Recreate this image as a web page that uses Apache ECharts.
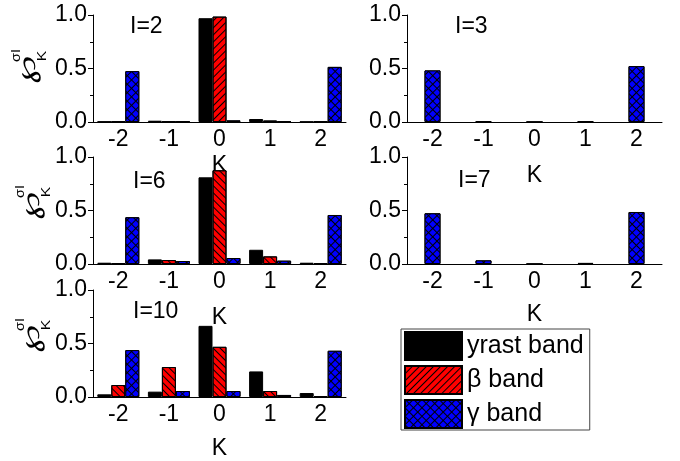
<!DOCTYPE html>
<html>
<head>
<meta charset="utf-8">
<script src="https://cdn.jsdelivr.net/npm/echarts@6/dist/echarts.min.js"></script>
<style>
html, body { margin: 0; padding: 0; background: #fff; }
#main { width: 680px; height: 461px; }
</style>
</head>
<body>
<div id="main"></div>
<script>
// K projections
var kLabels = ['-2', '-1', '0', '1', '2'];

// I=2
var yrastI2 = [0.005, 0.012, 0.97, 0.028, 0.004];
var betaI2 = [0.004, 0.004, 0.985, 0.014, 0.004];
var gammaI2 = [0.475, 0.004, 0.015, 0.004, 0.515];
// I=3
var gammaI3 = [0.482, 0.006, 0, 0.005, 0.522];
// I=6
var yrastI6 = [0.012, 0.043, 0.81, 0.133, 0.012];
var betaI6 = [0.006, 0.037, 0.876, 0.071, 0.008];
var gammaI6 = [0.437, 0.028, 0.056, 0.031, 0.458];
// I=7
var gammaI7 = [0.474, 0.034, 0, 0.01, 0.486];
// I=10
var yrastI10 = [0.025, 0.05, 0.665, 0.239, 0.037];
var betaI10 = [0.112, 0.28, 0.469, 0.056, 0.009];
var gammaI10 = [0.438, 0.056, 0.056, 0.019, 0.432];

var FONT = 'Liberation Sans, Arial, sans-serif';

var hatchBack = { symbol: 'rect', symbolSize: 1, color: '#000', dashArrayX: [1, 0], dashArrayY: [1, 3.5], rotation: -Math.PI / 4 };
var hatchFwd = { symbol: 'rect', symbolSize: 1, color: '#000', dashArrayX: [1, 0], dashArrayY: [1, 4], rotation: Math.PI / 4 };
var cross = { symbol: 'rect', symbolSize: 1, color: '#0000ff', dashArrayX: [4.7, 1], dashArrayY: [4.7, 1], rotation: Math.PI / 4 };

var grids = [
    { left: 93, top: 15, width: 253, height: 107 },
    { left: 407, top: 15, width: 255, height: 107 },
    { left: 93, top: 157, width: 253, height: 107 },
    { left: 407, top: 157, width: 255, height: 107 },
    { left: 93, top: 290, width: 253, height: 107 }
];
var nameGaps = [32, 42, 42, 39, 40];

var xAxes = grids.map(function(g, i) {
    return {
        type: 'category', gridIndex: i, data: kLabels,
        name: 'K', nameLocation: 'middle', nameGap: nameGaps[i],
        nameTextStyle: { fontSize: 23, fontFamily: FONT, color: '#000' },
        axisLine: { lineStyle: { color: '#000', width: 1 } },
        axisTick: { alignWithLabel: true, length: 4, lineStyle: { color: '#000' } },
        axisLabel: { fontSize: 23, fontFamily: FONT, color: '#000', margin: 6 }
    };
});
var yAxes = grids.map(function(g, i) {
    return {
        type: 'value', gridIndex: i, min: 0, max: 1, interval: 0.5,
        axisLine: { show: true, lineStyle: { color: '#000', width: 1 } },
        axisTick: { show: true, length: 5, lineStyle: { color: '#000' } },
        minorTick: { show: true, splitNumber: 2, length: 3, lineStyle: { color: '#000' } },
        splitLine: { show: false },
        axisLabel: { fontSize: 23, fontFamily: FONT, color: '#000', margin: 6,
            formatter: function(v) { return v.toFixed(1); } }
    };
});

function bar(name, idx, data, color, decal, width) {
    return {
        name: name, type: 'bar', xAxisIndex: idx, yAxisIndex: idx, data: data,
        barWidth: width || 14, barGap: '0%',
        itemStyle: { color: color, borderColor: '#000', borderWidth: 1, decal: decal },
        emphasis: { disabled: true }
    };
}

var series = [
    bar('yrast band', 0, yrastI2, '#000', null),
    bar('β band', 0, betaI2, '#ff0000', hatchBack),
    bar('γ band', 0, gammaI2, '#000', cross),
    bar('γ band', 1, gammaI3, '#000', cross, 16),
    bar('yrast band', 2, yrastI6, '#000', null),
    bar('β band', 2, betaI6, '#ff0000', hatchFwd),
    bar('γ band', 2, gammaI6, '#000', cross),
    bar('γ band', 3, gammaI7, '#000', cross, 16),
    bar('yrast band', 4, yrastI10, '#000', null),
    bar('β band', 4, betaI10, '#ff0000', hatchFwd),
    bar('γ band', 4, gammaI10, '#000', cross)
];

function panelLabel(text, x, y) {
    return { type: 'text', x: x, y: y, style: { text: text, fontSize: 23, fontFamily: FONT, fill: '#000', align: 'left', verticalAlign: 'middle' } };
}
function txt(text, x, y, size, family, sx) {
    return { type: 'text', x: x, y: y, scaleX: sx || 1,
        style: { text: text, fontSize: size, fontFamily: family, fill: '#000', align: 'center', verticalAlign: 'middle' } };
}
// rotated y-axis name: script P with subscript K and superscript sigma I
function yName(x, y) {
    return {
        type: 'group', x: x, y: y, rotation: Math.PI / 2,
        children: [
            txt('\u2118', 0, 0, 26, 'DejaVu Sans', 1.6),
            txt('K', 14, 14.5, 12, FONT, 1.3),
            txt('\u03c3I', 14.5, -11.5, 12, FONT, 1.2)
        ]
    };
}

var graphics = [
    panelLabel('I=2', 130, 27),
    panelLabel('I=3', 455, 27),
    panelLabel('I=6', 133, 182),
    panelLabel('I=7', 458, 181),
    panelLabel('I=10', 133, 312),
    yName(28, 70), yName(32, 206), yName(32, 339)
];

var myChart = echarts.init(document.getElementById('main'), null, { renderer: 'canvas' });
myChart.setOption({
    backgroundColor: '#fff',
    animation: false,
    grid: grids,
    xAxis: xAxes,
    yAxis: yAxes,
    legend: {
        orient: 'vertical', left: 401, top: 329,
        data: ['yrast band', 'β band', 'γ band'],
        icon: 'rect', itemWidth: 57, itemHeight: 28, itemGap: 4,
        padding: [2, 6, 1, 3],
        borderColor: '#444', borderWidth: 1,
        textStyle: { fontSize: 25, lineHeight: 28, fontFamily: FONT, color: '#000' }
    },
    graphic: graphics,
    series: series
});
</script>
</body>
</html>
